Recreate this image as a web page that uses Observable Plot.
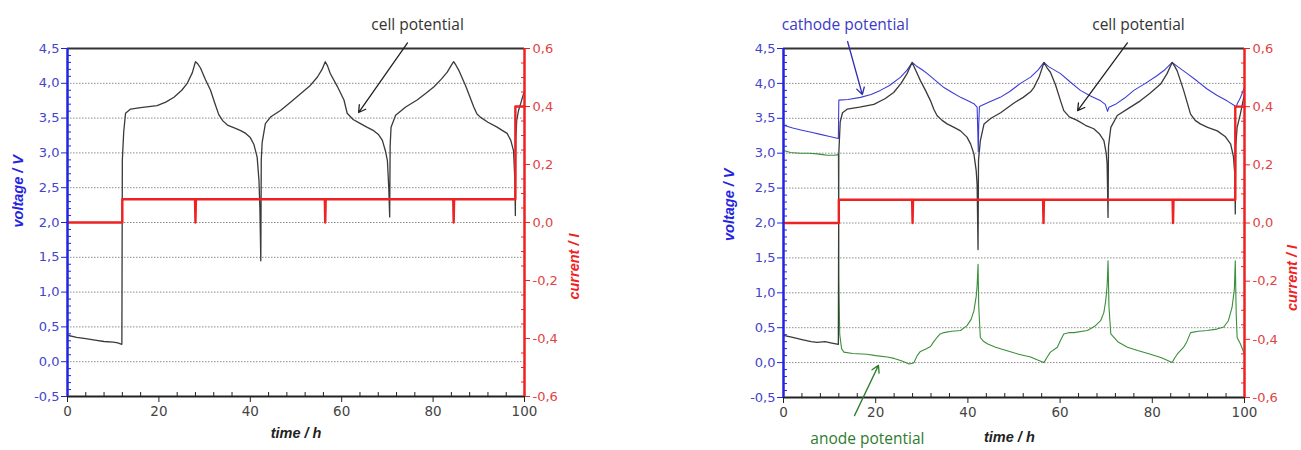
<!DOCTYPE html>
<html><head><meta charset="utf-8">
<script src="https://cdn.jsdelivr.net/npm/d3@7"></script>
<script src="https://cdn.jsdelivr.net/npm/@observablehq/plot@0.6"></script>
<style>
body{margin:0;background:#fff;}
#wrap{display:flex;width:1301px;height:450px;overflow:hidden;}
#wrap svg{overflow:visible;}
</style></head><body><div id="wrap"><div id="left"></div><div id="right"></div></div>
<script>
// ---------- data (time / h, voltage / V, current / I) ----------
const timeTicks = [0, 20, 40, 60, 80, 100];
const voltTicks = [-0.5, 0, 0.5, 1, 1.5, 2, 2.5, 3, 3.5, 4, 4.5];
const currentTicks = [-0.6, -0.4, -0.2, 0, 0.2, 0.4, 0.6];

const cellLeft = [
[0,0.38],[2,0.35],[4,0.33],[6,0.31],[8,0.29],[10,0.28],[11,0.27],[11.9,0.25],
[12,2.9],[12.3,3.3],[12.7,3.57],[13.8,3.63],[16,3.65],[19.6,3.68],[21.5,3.73],[23.3,3.8],[25,3.9],[26.2,4.0],[27.3,4.15],[28,4.31],[28.5,4.28],[29.1,4.22],[30.2,4.05],[31.3,3.9],[32.2,3.72],[33.1,3.55],[34,3.46],[35,3.4],[36.5,3.36],[37.9,3.32],[39,3.28],[40,3.22],[40.8,3.12],[41.5,2.94],[41.9,2.6],[42.1,2.2],[42.3,1.45],
[42.4,2.9],[42.6,3.15],[43.3,3.42],[44.5,3.52],[46.6,3.61],[49,3.74],[51,3.85],[53,3.96],[54.7,4.09],[55.7,4.2],[56.4,4.31],[56.9,4.25],[57.5,4.14],[59,3.96],[60.5,3.76],[61.2,3.57],[62.5,3.48],[64.1,3.42],[65.5,3.37],[67,3.32],[68.1,3.26],[68.9,3.18],[69.6,3.02],[70,2.89],[70.3,2.5],[70.5,2.08],
[70.6,3.1],[70.8,3.37],[71.8,3.54],[74,3.66],[76.5,3.76],[78.5,3.86],[80.2,3.95],[81.8,4.06],[83.1,4.16],[84,4.26],[84.5,4.31],[85,4.26],[85.6,4.19],[87.2,3.95],[88.9,3.66],[89.6,3.56],[90.4,3.51],[92,3.44],[94,3.37],[95.2,3.32],[96.2,3.28],[97,3.18],[97.6,3.03],[97.9,2.6],[98,2.1],
[98.1,3.2],[98.3,3.47],[98.7,3.61],[99.3,3.74],[99.8,3.85],[100,3.88]
];

const cellRight = [
[0,0.39],[2,0.36],[4,0.33],[6,0.3],[7.3,0.29],[9,0.3],[10.5,0.28],[11.9,0.26],
[12,3.0],[12.3,3.45],[12.8,3.58],[13.8,3.63],[16.5,3.66],[19.6,3.7],[22,3.78],[23.9,3.87],[25.5,4.0],[26.8,4.14],[27.9,4.3],[28.6,4.2],[29.7,4.04],[30.8,3.9],[31.9,3.75],[32.6,3.63],[33.3,3.54],[34.4,3.47],[35.5,3.42],[37,3.37],[38.4,3.32],[39.8,3.23],[40.6,3.13],[41.3,2.99],[41.8,2.75],[42,2.55],[42.2,1.62],
[42.3,2.9],[42.7,3.18],[43.5,3.42],[45,3.5],[47.1,3.58],[50,3.72],[52,3.8],[53.6,3.88],[54.3,3.94],[55.5,4.1],[56.5,4.3],[57.2,4.22],[57.9,4.16],[59,3.98],[60.1,3.75],[60.8,3.61],[62,3.52],[63.7,3.47],[65.5,3.4],[67.3,3.35],[68.5,3.28],[69.5,3.18],[70,3.0],[70.2,2.85],[70.4,2.08],
[70.5,3.1],[71,3.37],[72.4,3.54],[75,3.65],[77.4,3.75],[79.5,3.86],[81.8,3.99],[83.2,4.14],[84.3,4.3],[84.9,4.24],[85.4,4.18],[86.8,3.9],[88.3,3.56],[89.3,3.47],[90.4,3.42],[92,3.37],[94.1,3.32],[95.8,3.24],[97,3.13],[97.6,2.95],[97.9,2.7],[98,2.13],
[98.1,3.1],[98.4,3.37],[99.1,3.56],[100,3.85]
];

const cathodeRight = [
[0,3.4],[2,3.36],[4,3.33],[6,3.3],[8,3.27],[10,3.24],[11.9,3.21],[12,3.76],[14,3.77],[16.7,3.8],[19,3.84],[21,3.9],[23,3.97],[25.4,4.09],[26.8,4.19],[27.9,4.3],[28.8,4.25],[30,4.2],[31.2,4.14],[33,4.04],[34.8,3.94],[36.6,3.87],[38.4,3.8],[40,3.75],[41.3,3.71],[42,3.66],[42.15,3.3],[42.25,3.02],[42.35,3.4],[42.5,3.67],[44.5,3.73],[47,3.8],[49,3.88],[51.4,4.0],[53.6,4.09],[55.2,4.19],[56.5,4.3],[57.5,4.24],[60.1,4.14],[62.2,4.02],[64.4,3.9],[66.6,3.82],[68.8,3.75],[69.8,3.7],[70.3,3.6],[70.6,3.66],[72,3.7],[74,3.79],[76,3.9],[78.5,4.0],[81,4.11],[82.8,4.2],[84.3,4.3],[85.5,4.24],[87.6,4.14],[89.8,4.03],[91.9,3.92],[94,3.83],[96.2,3.75],[97.9,3.68],[98.1,3.65],[98.5,3.72],[99,3.78],[99.5,3.86],[100,3.95]
];

const anodeRight = [
[0,3.04],[1.5,3.01],[3.7,3.0],[5.5,3.0],[7.3,2.99],[8.5,2.98],[9.5,2.97],[11,2.97],[11.9,2.98],[12,1.2],[12.2,0.4],[12.6,0.2],[13.1,0.15],[15,0.13],[18.1,0.12],[20,0.1],[22.5,0.08],[24,0.06],[25.4,0.03],[26.5,0.0],[27.2,-0.02],[28,-0.01],[28.3,0.0],[29,0.1],[29.7,0.16],[31,0.2],[31.9,0.23],[32.6,0.3],[33.3,0.36],[34,0.41],[34.8,0.43],[36.5,0.45],[38.4,0.46],[39.8,0.53],[40.7,0.62],[41.3,0.74],[41.8,0.95],[42,1.1],[42.2,1.41],[42.35,0.8],[42.7,0.36],[43.3,0.31],[44.2,0.27],[46,0.22],[48.5,0.17],[51,0.12],[53.6,0.08],[55,0.04],[56.5,0.0],[57.2,0.08],[57.9,0.15],[59.4,0.22],[60.1,0.32],[60.8,0.41],[62,0.43],[63,0.43],[65.9,0.46],[67.5,0.52],[68.8,0.6],[69.5,0.72],[69.9,0.89],[70.2,1.1],[70.4,1.46],[70.6,0.8],[71,0.41],[72.5,0.3],[74.6,0.22],[77,0.17],[79.6,0.12],[82,0.07],[84.3,0.0],[84.9,0.07],[85.4,0.12],[86.8,0.22],[87.5,0.3],[88.3,0.43],[90,0.45],[91.9,0.46],[94,0.48],[95.5,0.51],[96.5,0.6],[97.3,0.79],[97.8,1.05],[98,1.46],[98.2,0.7],[98.4,0.36],[99.1,0.27],[100,0.12]
];

// current / I (right axis)
const current = [
[0,0],[12,0],[12,0.08],[27.9,0.08],[28,0.0],[28.1,0.08],[56.3,0.08],[56.4,0.0],[56.5,0.08],[84.4,0.08],[84.5,0.0],[84.6,0.08],[98,0.08],[98,0.4],[100,0.4]
];

// annotations: [t, V, text, colour]
const notesLeft = [[76.6, 4.84, "cell potential", "#333"]];
const arrowsLeft = [[74.4, 4.58, 63.7, 3.58, "#222"]];
const notesRight = [[77, 4.84, "cell potential", "#333"], [13.4, 4.84, "cathode potential", "#3b3bc8"], [18.2, -1.09, "anode potential", "#2e7d2e"]];
const arrowsRight = [[74.6, 4.58, 63.8, 3.61, "#222"], [13.9, 4.6, 17.1, 3.84, "#2b2bb8"], [15.4, -0.76, 20.6, -0.04, "#2e7d2e"]];

// ---------- helpers ----------
const cToV = c => 2 + c / 0.24;   // current axis is linked linearly to voltage axis
const vToC = v => (v - 2) * 0.24;
const fmt = d => { const r = Math.round(d * 10) / 10; return (r === 0 ? 0 : r).toFixed(1).replace(".", ","); };

const BLUE = "#2424e0", BLUE_TXT = "#4444cc", RED = "#ee2222", RED_TXT = "#e04444";
const LABEL_FONT = "'Liberation Sans', Arial, sans-serif";
const TICK_FONT = "'DejaVu Sans', Verdana, sans-serif";
const timeMinor = d3.range(0, 101, 4).filter(t => t % 20 !== 0);
const voltMinor = d3.range(-5, 46, 1).map(v => v / 10).filter(v => Math.abs(v * 2 - Math.round(v * 2)) > 1e-6);
const curMinor = d3.range(-12, 13, 1).map(c => c / 20).filter(c => Math.abs(c * 5 - Math.round(c * 5)) > 1e-6);

function panel(o) {
  const series = [];
  if (o.anode) series.push(Plot.line(o.anode, {x: d => d[0], y: d => d[1], stroke: "#3a8f3a", strokeWidth: 1.1}));
  if (o.cathode) series.push(Plot.line(o.cathode, {x: d => d[0], y: d => d[1], stroke: "#3c3cd4", strokeWidth: 1.1}));
  return Plot.plot({
    width: o.width, height: 450,
    marginLeft: o.ml, marginRight: o.mr, marginTop: 48, marginBottom: o.mb,
    x: {domain: [0, 100], label: null},
    y: {domain: [-0.5, 4.5], label: null},
    style: {fontFamily: TICK_FONT, fontSize: "13px", background: "white", overflow: "visible"},
    marks: [
      Plot.gridY(voltTicks.filter(v => v > -0.5 && v < 4.5), {stroke: "#8c8c8c", strokeOpacity: 1, strokeDasharray: "1.5,1.5", strokeWidth: 1}),
      Plot.ruleY([4.5], {stroke: "#333", strokeWidth: 2}),
      Plot.ruleY([-0.5], {stroke: "#222", strokeWidth: 2}),
      ...series,
      Plot.line(o.cell, {x: d => d[0], y: d => d[1], stroke: "#3a3a3a", strokeWidth: 1.3}),
      Plot.line(current, {x: d => d[0], y: d => cToV(d[1]), stroke: RED, strokeWidth: 2.4}),
      Plot.ruleX([0], {stroke: BLUE, strokeWidth: 2.5}),
      Plot.ruleX([100], {stroke: RED, strokeWidth: 2.5}),
      // bottom axis
      Plot.axisX(timeTicks, {anchor: "bottom", tickSize: 6, tickPadding: 4, tickFormat: d => String(d), stroke: "#222", fill: "#444", fontFamily: TICK_FONT, fontSize: 13.5, label: null}),
      Plot.axisX(timeMinor, {anchor: "bottom", tickSize: -4, tickFormat: () => "", stroke: "#222", label: null}),
      // left axis
      Plot.axisY(voltTicks, {anchor: "left", tickSize: 6, tickPadding: 2, tickFormat: fmt, stroke: BLUE, fill: BLUE_TXT, fontFamily: TICK_FONT, fontSize: 13, label: null}),
      Plot.axisY(voltMinor, {anchor: "left", tickSize: -4, tickFormat: () => "", stroke: BLUE, label: null}),
      // right axis (current)
      Plot.axisY(currentTicks.map(cToV), {anchor: "right", tickSize: 5, tickPadding: 3, tickFormat: v => fmt(vToC(v)), stroke: RED, fill: RED_TXT, fontFamily: TICK_FONT, fontSize: 13, label: null}),
      Plot.axisY(curMinor.map(cToV), {anchor: "right", tickSize: -4, tickFormat: () => "", stroke: RED, label: null}),
      // axis titles
      Plot.text(["voltage / V"], {frameAnchor: "left", dx: o.vdx, dy: o.vdy, rotate: -90, text: d => d, fill: BLUE, fontWeight: "bold", fontStyle: "italic", fontSize: 14.5, fontFamily: LABEL_FONT}),
      Plot.text(["current / I"], {frameAnchor: "right", dx: o.cdx, dy: o.cdy, rotate: -90, text: d => d, fill: RED, fontWeight: "bold", fontStyle: "italic", fontSize: 14.5, fontFamily: LABEL_FONT}),
      Plot.text(["time / h"], {x: () => o.tx, frameAnchor: "bottom", dy: o.tdy, text: d => d, fill: "#222", fontWeight: "bold", fontStyle: "italic", fontSize: 14.5, fontFamily: LABEL_FONT}),
      // annotations
      Plot.arrow(o.arrows, {x1: d => d[0], y1: d => d[1], x2: d => d[2], y2: d => d[3], stroke: d => d[4], strokeWidth: 1.3, headLength: 9, insetEnd: 0}),
      Plot.text(o.notes, {x: d => d[0], y: d => d[1], text: d => d[2], fill: d => d[3], fontSize: 15.5, fontFamily: "'Open Sans', Lato, sans-serif"})
    ]
  });
}

document.getElementById("left").append(panel({
  width: 650, ml: 67, mr: 126, mb: 54, cell: cellLeft, notes: notesLeft, arrows: arrowsLeft,
  vdx: -49, vdy: 5, cdx: 50, cdy: 11, tx: 50, tdy: 41
}));
document.getElementById("right").append(panel({
  width: 651, ml: 133, mr: 57, mb: 53, cell: cellRight, cathode: cathodeRight, anode: anodeRight,
  notes: notesRight, arrows: arrowsRight,
  vdx: -54, vdy: 18, cdx: 48, cdy: 22, tx: 49, tdy: 44
}));
</script></body></html>
